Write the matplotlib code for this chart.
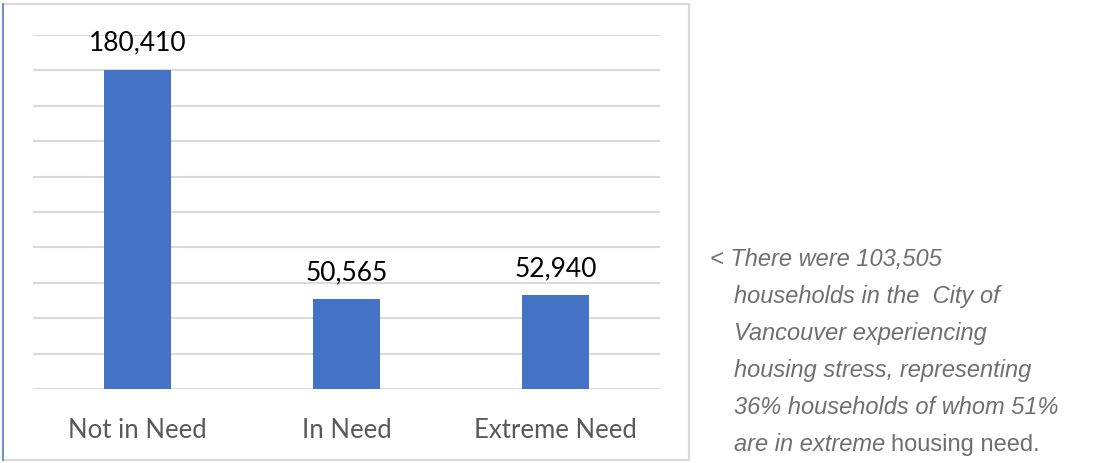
import matplotlib.pyplot as plt
from matplotlib.patches import Rectangle
from matplotlib.lines import Line2D

categories = ['Not in Need', 'In Need', 'Extreme Need']
households = [180410, 50565, 52940]
y_max = 200000
y_step = 20000

BAR_COLOR = '#4472C4'
GRID_COLOR = '#D9D9D9'

fig = plt.figure(figsize=(11.09, 4.64), dpi=100)

# chart frame (grey box with a blue left edge)
fig.patches.append(Rectangle((3 / 1109, 1 - 461 / 464), 686 / 1109, 456 / 464,
                             transform=fig.transFigure, fill=False,
                             edgecolor='#D9D9D9', linewidth=1.5))
fig.lines.append(Line2D([3 / 1109, 3 / 1109], [1 - 461 / 464, 1 - 5 / 464],
                        transform=fig.transFigure, color='#6F93D3', linewidth=1.5))

ax = fig.add_axes([33 / 1109, 74 / 464, 627 / 1109, 354 / 464])
x = range(len(categories))
bars = ax.bar(x, households, width=0.32, color=BAR_COLOR, zorder=3)

ax.set_ylim(0, y_max)
ax.set_xlim(-0.5, len(categories) - 0.5)
ax.set_yticks(range(0, y_max + 1, y_step))
ax.yaxis.grid(True, color=GRID_COLOR, linewidth=1.5, zorder=0)
ax.tick_params(axis='y', left=False, labelleft=False)
ax.tick_params(axis='x', bottom=False, pad=17)
for s in ax.spines.values():
    s.set_visible(False)

ax.set_xticks(list(x))
ax.set_xticklabels(categories, fontsize=18.5, color='#595959', family='Lato')

for b, v in zip(bars, households):
    ax.annotate(f'{v:,}', (b.get_x() + b.get_width() / 2, v),
                xytext=(0, 11), textcoords='offset points',
                ha='center', va='bottom', fontsize=19, color='black', family='Lato')

# side note
note_color = '#6F6F6F'
note_size = 17
lines = ['< There were 103,505',
         'households in the  City of',
         'Vancouver experiencing',
         'housing stress, representing',
         '36% households of whom 51%']
y0 = 1 - 260 / 464
dy = 37 / 464
x_first = 710 / 1109
x_indent = 734 / 1109
for i, t in enumerate(lines):
    fig.text(x_first if i == 0 else x_indent, y0 - i * dy, t, fontsize=note_size,
             style='italic', color=note_color, family='Liberation Sans', va='center')
t = fig.text(x_indent, y0 - 5 * dy, 'are in extreme', fontsize=note_size,
             style='italic', color=note_color, family='Liberation Sans', va='center')
fig.canvas.draw()
bb = t.get_window_extent()
fig.text((bb.x1 + 6) / 1109, y0 - 5 * dy, 'housing need.', fontsize=note_size,
         color=note_color, family='Liberation Sans', va='center')

fig.savefig('out.png', dpi=100)
